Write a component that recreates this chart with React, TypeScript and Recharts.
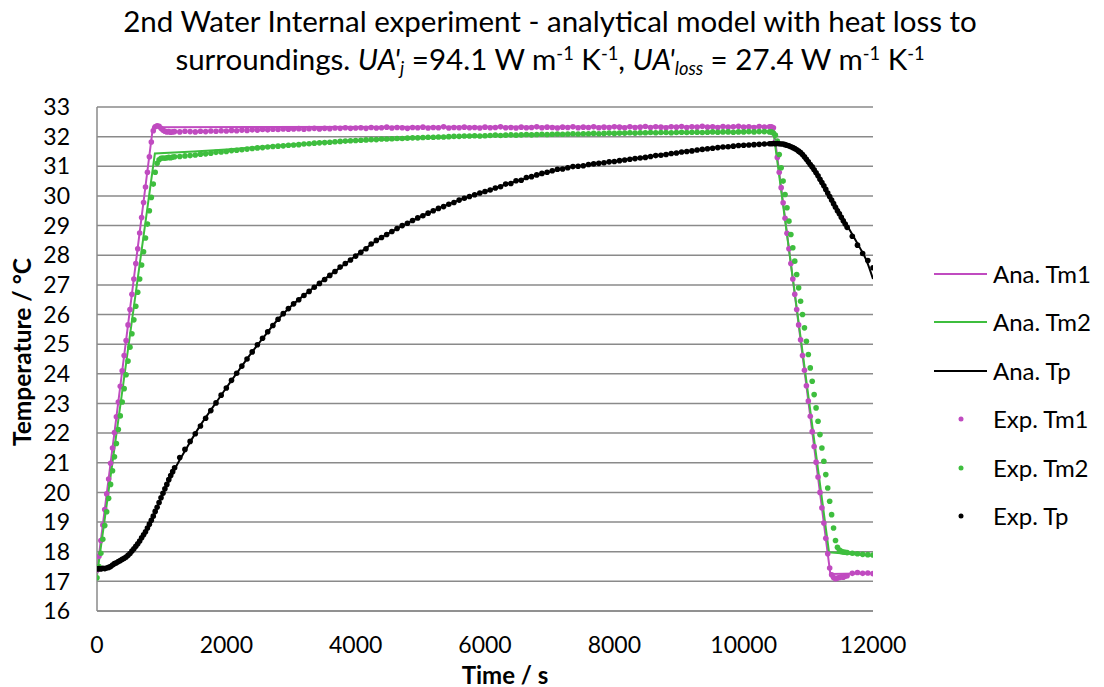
import React from "react";
import { ComposedChart, Line, Scatter, XAxis, YAxis, CartesianGrid } from "recharts";

const MAG = "#C04BC0";
const GRN = "#3EBE3E";
const BLK = "#000000";
const FONT = "Lato, 'Open Sans', sans-serif";

const xTicks = [0, 2000, 4000, 6000, 8000, 10000, 12000];
const yTicks = [16, 17, 18, 19, 20, 21, 22, 23, 24, 25, 26, 27, 28, 29, 30, 31, 32, 33];

// Analytical model (s, °C)
const anaTm1Time = [0, 865, 10460, 11340, 12000];
const anaTm1 = [17.35, 32.32, 32.34, 17.25, 17.27];

const anaTm2Time = [0, 895, 1500, 2000, 2500, 3000, 4000, 5000, 6000, 7000, 8000, 9000, 10460, 11320, 12000];
const anaTm2 = [17.2, 31.43, 31.5, 31.57, 31.65, 31.73, 31.85, 31.95, 32.01, 32.06, 32.1, 32.13, 32.16, 17.98, 17.86];

const anaTpTime = [
  0, 200, 400, 600, 800, 1000, 1200, 1400, 1600, 1800, 2000, 2200, 2400, 2600, 2800, 3000, 3200, 3400, 3600, 3800, 4000,
  4400, 4800, 5200, 5600, 6000, 6400, 6800, 7200, 7600, 8000, 8400, 8800, 9200, 9600, 10000, 10400,
  10500, 10600, 10700, 10800, 10900, 11000, 11100, 11200, 11300, 11400, 11500, 11600, 11700, 11800, 11900, 12000,
];
const anaTp = [
  17.42, 17.46, 17.74, 18.2, 18.85, 19.85, 20.78, 21.55, 22.27, 22.9, 23.53, 24.14, 24.74, 25.3, 25.84, 26.28, 26.65, 26.99, 27.33, 27.65, 27.98,
  28.6, 29.08, 29.5, 29.86, 30.15, 30.44, 30.7, 30.92, 31.05, 31.17, 31.29, 31.41, 31.52, 31.63, 31.71, 31.76,
  31.76, 31.74, 31.68, 31.56, 31.36, 31.08, 30.78, 30.48, 30.14, 29.77, 29.39, 29.0, 28.62, 28.24, 27.82, 27.2,
];

// Experimental readings (s)
const expTime = [
  0, 30, 60, 90, 120, 150, 180, 210, 240, 270,
  300, 330, 360, 390, 420, 450, 480, 510, 540, 570,
  600, 630, 660, 690, 720, 750, 780, 810, 840, 870,
  900, 930, 960, 990, 1020, 1050, 1080, 1110, 1140, 1170,
  1200,
  1280, 1360, 1440, 1520, 1600, 1680, 1760, 1840, 1920, 2000,
  2080, 2160, 2240, 2320, 2400, 2480, 2560, 2640, 2720, 2800,
  2880, 2960, 3040, 3120, 3200, 3280, 3360, 3440, 3520, 3600,
  3680, 3760, 3840, 3920, 4000, 4080, 4160, 4240, 4320, 4400,
  4480, 4560, 4640, 4720, 4800, 4880, 4960, 5040, 5120, 5200,
  5280, 5360, 5440, 5520, 5600, 5680, 5760, 5840, 5920, 6000,
  6080, 6160, 6240, 6320, 6400, 6480, 6560, 6640, 6720, 6800,
  6880, 6960, 7040, 7120, 7200, 7280, 7360, 7440, 7520, 7600,
  7680, 7760, 7840, 7920, 8000, 8080, 8160, 8240, 8320, 8400,
  8480, 8560, 8640, 8720, 8800, 8880, 8960, 9040, 9120, 9200,
  9280, 9360, 9440, 9520, 9600, 9680, 9760, 9840, 9920, 10000,
  10080, 10160, 10240, 10320, 10400,
  10430, 10460, 10490, 10520, 10550, 10580, 10610, 10640, 10670, 10700,
  10730, 10760, 10790, 10820, 10850, 10880, 10910, 10940, 10970, 11000,
  11030, 11060, 11090, 11120, 11150, 11180, 11210, 11240, 11270, 11300,
  11330, 11360, 11390, 11420, 11450, 11480, 11510, 11540, 11570, 11600,
  11680, 11760, 11840, 11920, 12000,
];

const expTm1 = [
  17.38, 17.85, 18.38, 18.9, 19.42, 19.95, 20.45, 20.98, 21.5, 22.02,
  22.55, 23.05, 23.58, 24.1, 24.62, 25.12, 25.65, 26.17, 26.68, 27.2,
  27.72, 28.22, 28.75, 29.27, 29.78, 30.3, 30.8, 31.32, 31.82, 32.2,
  32.33, 32.37, 32.35, 32.28, 32.22, 32.18, 32.16, 32.17, 32.15, 32.16,
  32.17,
  32.16, 32.18, 32.17, 32.16, 32.18, 32.17, 32.19, 32.18, 32.2, 32.19,
  32.21, 32.2, 32.22, 32.21, 32.23, 32.22, 32.24, 32.23, 32.25, 32.24,
  32.26, 32.25, 32.26, 32.27, 32.25, 32.27, 32.28, 32.26, 32.28, 32.27,
  32.29, 32.28, 32.3, 32.28, 32.29, 32.3, 32.28, 32.31, 32.29, 32.3,
  32.32, 32.29, 32.31, 32.3, 32.28, 32.31, 32.3, 32.32, 32.29, 32.31,
  32.3, 32.33, 32.29, 32.31, 32.3, 32.32, 32.3, 32.31, 32.29, 32.32,
  32.3, 32.31, 32.33, 32.3, 32.31, 32.29, 32.32, 32.3, 32.31, 32.33,
  32.3, 32.32, 32.31, 32.29, 32.32, 32.31, 32.33, 32.3, 32.32, 32.31,
  32.33, 32.3, 32.32, 32.31, 32.33, 32.32, 32.3, 32.33, 32.31, 32.32,
  32.34, 32.31, 32.33, 32.32, 32.3, 32.33, 32.32, 32.34, 32.31, 32.33,
  32.32, 32.35, 32.32, 32.33, 32.31, 32.34, 32.32, 32.33, 32.35, 32.32,
  32.33, 32.31, 32.34, 32.32, 32.33,
  32.33, 32.3, 31.83, 31.3, 30.8, 30.28, 29.77, 29.25, 28.74, 28.22,
  27.72, 27.2, 26.68, 26.17, 25.65, 25.15, 24.62, 24.12, 23.6, 23.08,
  22.57, 22.05, 21.55, 21.02, 20.52, 20.0, 19.48, 18.97, 18.45, 17.93,
  17.45, 17.22, 17.13, 17.09, 17.11, 17.13, 17.15, 17.14, 17.17, 17.19,
  17.27, 17.3, 17.27, 17.28, 17.26,
];

const expTm2 = [
  17.12, 17.5, 17.95, 18.42, 18.88, 19.35, 19.8, 20.27, 20.73, 21.2,
  21.65, 22.12, 22.58, 23.05, 23.5, 23.97, 24.43, 24.9, 25.35, 25.82,
  26.28, 26.75, 27.2, 27.67, 28.12, 28.58, 29.05, 29.5, 29.95, 30.4,
  30.8, 31.1, 31.22, 31.27, 31.28, 31.27, 31.29, 31.3, 31.29, 31.31,
  31.32,
  31.33, 31.35, 31.36, 31.38, 31.41, 31.42, 31.44, 31.47, 31.48, 31.5,
  31.53, 31.54, 31.56, 31.58, 31.6, 31.62, 31.63, 31.65, 31.67, 31.68,
  31.69, 31.71, 31.72, 31.73, 31.75, 31.76, 31.78, 31.79, 31.8, 31.81,
  31.83, 31.84, 31.85, 31.86, 31.87, 31.88, 31.89, 31.9, 31.9, 31.92,
  31.92, 31.93, 31.94, 31.94, 31.95, 31.96, 31.96, 31.97, 31.98, 31.98,
  31.99, 31.99, 32.0, 32.01, 32.01, 32.02, 32.02, 32.03, 32.02, 32.03,
  32.04, 32.05, 32.04, 32.05, 32.06, 32.05, 32.06, 32.07, 32.06, 32.07,
  32.08, 32.07, 32.08, 32.09, 32.08, 32.09, 32.1, 32.09, 32.1, 32.1,
  32.11, 32.1, 32.11, 32.12, 32.11, 32.12, 32.12, 32.13, 32.12, 32.13,
  32.13, 32.14, 32.13, 32.14, 32.14, 32.13, 32.14, 32.15, 32.14, 32.15,
  32.15, 32.14, 32.15, 32.16, 32.15, 32.16, 32.16, 32.15, 32.16, 32.16,
  32.17, 32.16, 32.17, 32.17, 32.16,
  32.16, 32.12, 32.05, 31.85, 31.4, 30.95, 30.5, 30.05, 29.6, 29.15,
  28.7, 28.25, 27.8, 27.35, 26.9, 26.45, 26.0, 25.55, 25.1, 24.65,
  24.2, 23.75, 23.3, 22.85, 22.4, 21.95, 21.5, 21.05, 20.6, 20.15,
  19.7, 19.25, 18.8, 18.38, 18.15, 18.06, 18.01, 17.99, 17.98, 17.97,
  17.95, 17.93, 17.91, 17.9, 17.89,
];

const expTp = [
  17.42, 17.43, 17.42, 17.44, 17.43, 17.45, 17.47, 17.5, 17.55, 17.6,
  17.63, 17.67, 17.7, 17.74, 17.78, 17.82, 17.88, 17.94, 18.02, 18.1,
  18.18, 18.27, 18.36, 18.47, 18.57, 18.67, 18.8, 18.93, 19.06, 19.2,
  19.36, 19.5, 19.66, 19.82, 19.97, 20.12, 20.27, 20.43, 20.57, 20.7,
  20.83,
  21.18, 21.45, 21.72, 21.98, 22.24, 22.5, 22.76, 23.02, 23.28, 23.52,
  23.78, 24.02, 24.26, 24.5, 24.74, 24.98, 25.2, 25.42, 25.63, 25.84,
  26.03, 26.2, 26.36, 26.5, 26.64, 26.78, 26.92, 27.05, 27.18, 27.32,
  27.45, 27.6, 27.72, 27.84, 27.97, 28.1, 28.22, 28.38, 28.5, 28.6,
  28.7, 28.8, 28.9, 29.0, 29.08, 29.17, 29.26, 29.33, 29.42, 29.5,
  29.58, 29.64, 29.72, 29.78, 29.86, 29.92, 29.98, 30.04, 30.1, 30.15,
  30.2, 30.27, 30.31, 30.4, 30.42, 30.51, 30.53, 30.62, 30.65, 30.71,
  30.76, 30.8, 30.85, 30.9, 30.91, 30.95, 30.99, 31.0, 31.02, 31.06,
  31.08, 31.1, 31.12, 31.15, 31.16, 31.19, 31.21, 31.24, 31.26, 31.28,
  31.3, 31.33, 31.36, 31.37, 31.4, 31.43, 31.45, 31.48, 31.5, 31.52,
  31.55, 31.57, 31.59, 31.61, 31.63, 31.65, 31.66, 31.68, 31.7, 31.71,
  31.72, 31.73, 31.74, 31.75, 31.76,
  31.76, 31.77, 31.76, 31.77, 31.76, 31.75, 31.75, 31.73, 31.71, 31.69,
  31.66, 31.63, 31.6, 31.56, 31.51, 31.46, 31.4, 31.32, 31.24, 31.15,
  31.06, 30.98, 30.88, 30.78, 30.68, 30.56, 30.45, 30.34, 30.22, 30.1,
  29.98, 29.86, 29.74, 29.62, 29.5, 29.4, 29.28, 29.16, 29.05, 28.94,
  28.64, 28.34, 28.06, 27.82, 27.58,
];

const toRows = (ts: number[], vs: number[]) => ts.map((t, i) => ({ t, v: vs[i] }));

const anaTm1Rows = toRows(anaTm1Time, anaTm1);
const anaTm2Rows = toRows(anaTm2Time, anaTm2);
const anaTpRows = toRows(anaTpTime, anaTp);
const expTm1Rows = toRows(expTime, expTm1);
const expTm2Rows = toRows(expTime, expTm2);
const expTpRows = toRows(expTime, expTp);

const legendItems = [
  { name: "Ana. Tm1", color: MAG, kind: "line" },
  { name: "Ana. Tm2", color: GRN, kind: "line" },
  { name: "Ana. Tp", color: BLK, kind: "line" },
  { name: "Exp. Tm1", color: MAG, kind: "dot" },
  { name: "Exp. Tm2", color: GRN, kind: "dot" },
  { name: "Exp. Tp", color: BLK, kind: "dot" },
];

const DOT_R = 2.8;
const dotShape = (color: string) => (p: any) =>
  p.cx == null || p.cy == null ? <g /> : <circle cx={p.cx} cy={p.cy} r={DOT_R} fill={color} />;

const supStyle: React.CSSProperties = { fontSize: "0.62em", verticalAlign: "0.55em", lineHeight: 0 };
const subStyle: React.CSSProperties = { fontSize: "0.62em", verticalAlign: "-0.3em", lineHeight: 0 };

export default function App() {
  return (
    <div style={{ position: "absolute", left: 0, top: 0, width: 1104, height: 687, background: "#fff", fontFamily: FONT }}>
      <ComposedChart width={1104} height={687} margin={{ top: 107, right: 231, bottom: 36, left: 37 }}>
        <CartesianGrid horizontal vertical={false} stroke="#8a8a8a" strokeWidth={1.5} />
        <XAxis
          dataKey="t"
          type="number"
          domain={[0, 12000]}
          ticks={xTicks}
          allowDataOverflow
          height={40}
          tickLine={false}
          tickSize={0}
          tickMargin={26}
          axisLine={{ stroke: "#8a8a8a", strokeWidth: 1.5 }}
          tick={{ fill: "#000", fontSize: 23, fontFamily: FONT }}
        />
        <YAxis
          type="number"
          domain={[16, 33]}
          ticks={yTicks}
          allowDataOverflow
          width={60}
          tickLine={false}
          tickSize={0}
          tickMargin={27}
          axisLine={{ stroke: "#8a8a8a", strokeWidth: 1.5 }}
          tick={{ fill: "#000", fontSize: 23, fontFamily: FONT }}
          interval={0}
        />
        <Line data={anaTm1Rows} dataKey="v" type="linear" stroke={MAG} strokeWidth={2} dot={false} isAnimationActive={false} />
        <Line data={anaTm2Rows} dataKey="v" type="linear" stroke={GRN} strokeWidth={2} dot={false} isAnimationActive={false} />
        <Line data={anaTpRows} dataKey="v" type="monotone" stroke={BLK} strokeWidth={2} dot={false} isAnimationActive={false} />
        <Scatter data={expTm1Rows} dataKey="v" fill={MAG} shape={dotShape(MAG)} isAnimationActive={false} />
        <Scatter data={expTm2Rows} dataKey="v" fill={GRN} shape={dotShape(GRN)} isAnimationActive={false} />
        <Scatter data={expTpRows} dataKey="v" fill={BLK} shape={dotShape(BLK)} isAnimationActive={false} />
      </ComposedChart>

      <div style={{ position: "absolute", left: 0, top: 2, width: 1100, textAlign: "center", fontSize: 29.5, lineHeight: "38px", color: "#000" }}>
        <div>2nd Water Internal experiment - analytical model with heat loss to</div>
        <div>
          surroundings. <i>UA'<sub style={subStyle}>j</sub></i> =94.1 W m<sup style={supStyle}>-1</sup> K<sup style={supStyle}>-1</sup>,{" "}
          <i>UA'<sub style={subStyle}>loss</sub></i> = 27.4 W m<sup style={supStyle}>-1</sup> K<sup style={supStyle}>-1</sup>
        </div>
      </div>

      <div style={{ position: "absolute", left: 22 - 150, top: 352 - 15, width: 300, height: 30, lineHeight: "30px", textAlign: "center", transform: "rotate(-90deg)", fontWeight: 700, fontSize: 24.5, color: "#000" }}>
        Temperature / °C
      </div>
      <div style={{ position: "absolute", left: 505 - 100, top: 675 - 15, width: 200, height: 30, lineHeight: "30px", textAlign: "center", fontWeight: 700, fontSize: 24, color: "#000" }}>
        Time / s
      </div>

      {legendItems.map((it, i) => {
        const cy = 274 + i * 48.4;
        return (
          <div key={it.name} style={{ position: "absolute", left: 930, top: cy - 15, height: 30, width: 174 }}>
            <svg width={60} height={30} style={{ position: "absolute", left: 0, top: 0 }}>
              {it.kind === "line" ? (
                <line x1={4} x2={57} y1={15} y2={15} stroke={it.color} strokeWidth={2} />
              ) : (
                <circle cx={31} cy={15} r={2.5} fill={it.color} />
              )}
            </svg>
            <div style={{ position: "absolute", left: 63, top: 0, lineHeight: "30px", fontSize: 24, color: "#000", whiteSpace: "nowrap" }}>{it.name}</div>
          </div>
        );
      })}
    </div>
  );
}
